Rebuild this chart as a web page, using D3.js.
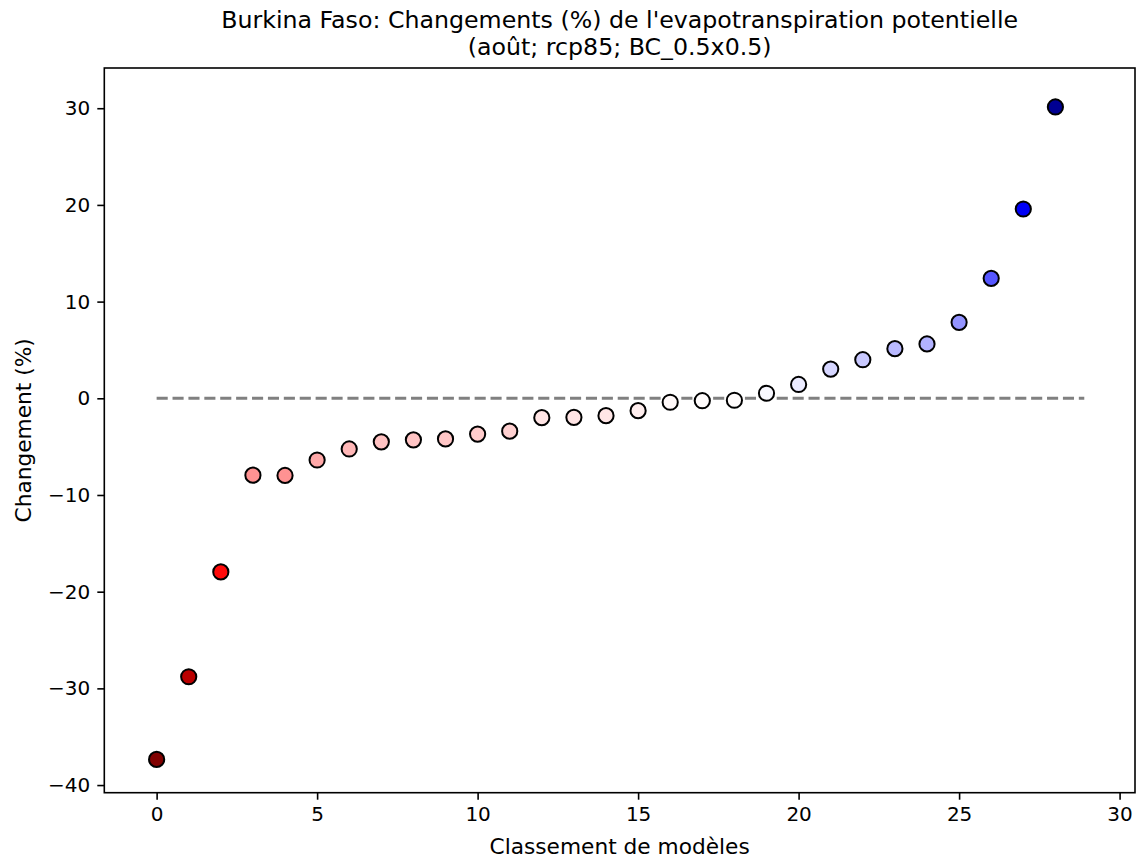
<!DOCTYPE html>
<html><head><meta charset="utf-8">
<script src="https://cdn.jsdelivr.net/npm/d3@7"></script>
<style>
html,body{margin:0;padding:0;background:#fff;}
svg text{font-family:"DejaVu Sans",sans-serif;fill:#000;}
</style></head>
<body>
<svg id="chart" width="1137" height="859"></svg>
<script>
// ---- data ----
const titleLines = ["Burkina Faso: Changements (%) de l'evapotranspiration potentielle", "(août; rcp85; BC_0.5x0.5)"];
const xLabel = "Classement de modèles";
const yLabel = "Changement (%)";
const ranks = d3.range(29);
const values = [-37.35, -28.8, -17.96, -7.95, -7.98, -6.38, -5.24, -4.5, -4.3, -4.2, -3.7, -3.4,
  -2.0, -1.97, -1.8, -1.28, -0.41, -0.25, -0.2, 0.52, 1.43, 3.02, 3.99, 5.13, 5.62, 7.86, 12.41, 19.58, 30.13];
const xTicks = [0, 5, 10, 15, 20, 25, 30];
const yTicks = [-40, -30, -20, -10, 0, 10, 20, 30];
const zeroLine = [0, 28.9];

// ---- layout ----
const svg = d3.select("#chart");
const L = 104.3, R = 1135, T = 68, B = 792.7;
const x = d3.scaleLinear().domain([-1.63, 30.48]).range([L, R]);
const y = d3.scaleLinear().domain([-40.79, 34.16]).range([B, T]);

// seismic_r colormap, symmetric norm
const m = d3.max(values, v => Math.abs(v));
const color = d3.scaleLinear()
  .domain([-m, -m / 2, 0, m / 2, m])
  .range(["#800000", "#ff0000", "#ffffff", "#0000ff", "#00004d"]);

// zero dashed line
svg.append("line")
  .attr("x1", x(zeroLine[0])).attr("x2", x(zeroLine[1]))
  .attr("y1", y(0)).attr("y2", y(0))
  .attr("stroke", "#808080").attr("stroke-width", 3)
  .attr("stroke-dasharray", "11.1,4.8");

// points
svg.append("g").selectAll("circle").data(ranks).join("circle")
  .attr("cx", i => x(i)).attr("cy", i => y(values[i]))
  .attr("r", 7.6)
  .attr("fill", i => color(values[i]))
  .attr("stroke", "#000").attr("stroke-width", 2);

// frame
svg.append("rect").attr("x", L).attr("y", T).attr("width", R - L).attr("height", B - T)
  .attr("fill", "none").attr("stroke", "#000").attr("stroke-width", 1.6);

// axes
const xAxis = svg.append("g").attr("transform", `translate(0,${B})`)
  .call(d3.axisBottom(x).tickValues(xTicks).tickFormat(d3.format("d")).tickSize(7).tickPadding(7));
const yAxis = svg.append("g").attr("transform", `translate(${L},0)`)
  .call(d3.axisLeft(y).tickValues(yTicks).tickFormat(d3.format("d")).tickSize(7).tickPadding(7));
[xAxis, yAxis].forEach(a => {
  a.select(".domain").remove();
  a.selectAll(".tick line").attr("stroke", "#000").attr("stroke-width", 1.6);
  a.selectAll(".tick text").attr("font-size", 20).attr("font-family", "DejaVu Sans");
});

// title
svg.append("text").attr("x", (L + R) / 2).attr("y", 28).attr("text-anchor", "middle")
  .attr("font-size", 23.7).text(titleLines[0]);
svg.append("text").attr("x", (L + R) / 2).attr("y", 55).attr("text-anchor", "middle")
  .attr("font-size", 23.7).text(titleLines[1]);

// axis labels
svg.append("text").attr("x", (L + R) / 2).attr("y", 854).attr("text-anchor", "middle")
  .attr("font-size", 21.7).text(xLabel);
svg.append("text").attr("transform", `translate(31,${(T + B) / 2}) rotate(-90)`)
  .attr("text-anchor", "middle").attr("font-size", 21.7).text(yLabel);
</script>
</body></html>
